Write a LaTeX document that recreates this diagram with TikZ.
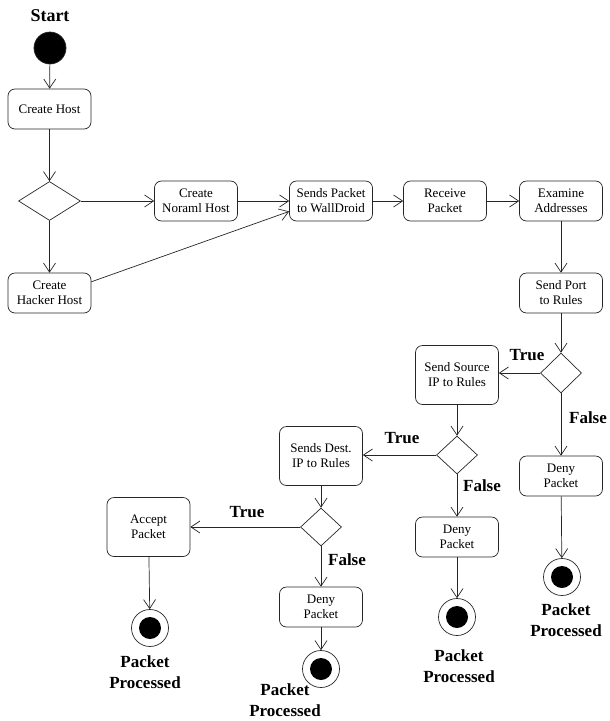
\documentclass[tikz,border=0pt]{standalone}
\usepackage{fontspec}
\setmainfont{Liberation Serif}
\usetikzlibrary{shapes.geometric,arrows.meta}
\tikzset{
 act/.style={draw, rounded corners=7pt, minimum width=83pt, minimum height=40pt, align=center, font=\fontsize{13}{15}\selectfont, inner sep=1pt},
 tall/.style={act, minimum height=59pt},
 dec/.style={diamond, draw, inner sep=0pt, minimum width=41pt, minimum height=40pt},
 fin/.style={circle, draw, minimum size=37pt, inner sep=0pt, path picture={\fill (path picture bounding box.center) circle (11pt);}},
 startnode/.style={circle, fill=black, draw, minimum size=32pt, inner sep=0pt},
 lbl/.style={font=\bfseries\fontsize{17}{21}\selectfont, align=center, inner sep=0pt},
 arr/.style={-{Straight Barb[length=9pt,width=12pt]}}
}
\begin{document}
\begin{tikzpicture}[x=1pt,y=-1pt, line width=0.7pt, draw=black!85]
\useasboundingbox (0,0) rectangle (610,721);
% nodes
\node[lbl, font=\bfseries\fontsize{18}{21}\selectfont] (startlbl) at (50,16) {Start};
\node[startnode] (start) at (50,48) {};
\node[act] (create) at (49.5,109) {Create Host};
\node[dec, minimum width=62pt, minimum height=39pt] (d1) at (49.5,201) {};
\node[act] (normal) at (196,201) {Create\\Noraml Host};
\node[act] (hacker) at (49.5,293) {Create\\Hacker Host};
\node[act] (sends) at (331,201) {Sends Packet\\to WallDroid};
\node[act] (receive) at (445,201) {Receive\\Packet};
\node[act] (examine) at (561,201) {Examine\\Addresses};
\node[act] (sendport) at (561,293) {Send Port\\to Rules};
\node[dec] (d2) at (561,373) {};
\node[tall] (source) at (457,375) {Send Source\\IP to Rules};
\node[act] (deny1) at (561,476) {Deny\\Packet};
\node[fin] (f1) at (562,577) {};
\node[lbl] (l1) at (566,620) {Packet\\Processed};
\node[dec, minimum height=38pt] (d3) at (457,455) {};
\node[tall] (dest) at (321,456) {Sends Dest.\\IP to Rules};
\node[act] (deny2) at (457,537) {Deny\\Packet};
\node[fin] (f2) at (457,617) {};
\node[lbl] (l2) at (459,666) {Packet\\Processed};
\node[dec, minimum height=38pt] (d4) at (321,527) {};
\node[act] (deny3) at (321,607) {Deny\\Packet};
\node[fin] (f3) at (321,669) {};
\node[lbl] (l3) at (285,700) {Packet\\Processed};
\node[tall] (accept) at (148.5,527) {Accept\\Packet};
\node[fin] (f4) at (150,628) {};
\node[lbl] (l4) at (145,672) {Packet\\Processed};
% labels
\node[lbl] (t1) at (527,355) {True};
\node[lbl] (t2) at (402,438) {True};
\node[lbl] (t3) at (247,512) {True};
\node[lbl] (fa1) at (588,418) {False};
\node[lbl] (fa2) at (482,486) {False};
\node[lbl] (fa3) at (347,560) {False};
% connectors
\draw[arr] (start) -- (create);
\draw[arr] (create) -- (d1.north);
\draw[arr] (d1.east) -- (normal.west);
\draw[arr] (d1.south) -- (hacker.north);
\draw[arr] (normal.east) -- (sends.west);
\draw[arr] (hacker.15) -- (sends.194);
\draw[arr] (sends) -- (receive);
\draw[arr] (receive) -- (examine);
\draw[arr] (examine) -- (sendport);
\draw[arr] (sendport) -- (d2.north);
\draw[arr] (d2.west) -- (d2.west -| source.east);
\draw[arr] (d2.south) -- (deny1.north);
\draw[arr] (deny1) -- (f1);
\draw[arr] (source) -- (d3.north);
\draw[arr] (d3.west) -- (d3.west -| dest.east);
\draw[arr] (d3.south) -- (deny2.north);
\draw[arr] (deny2) -- (f2);
\draw[arr] (dest) -- (d4.north);
\draw[arr] (d4.west) -- (d4.west -| accept.east);
\draw[arr] (d4.south) -- (deny3.north);
\draw[arr] (deny3) -- (f3);
\draw[arr] (accept) -- (f4);
\end{tikzpicture}
\end{document}
